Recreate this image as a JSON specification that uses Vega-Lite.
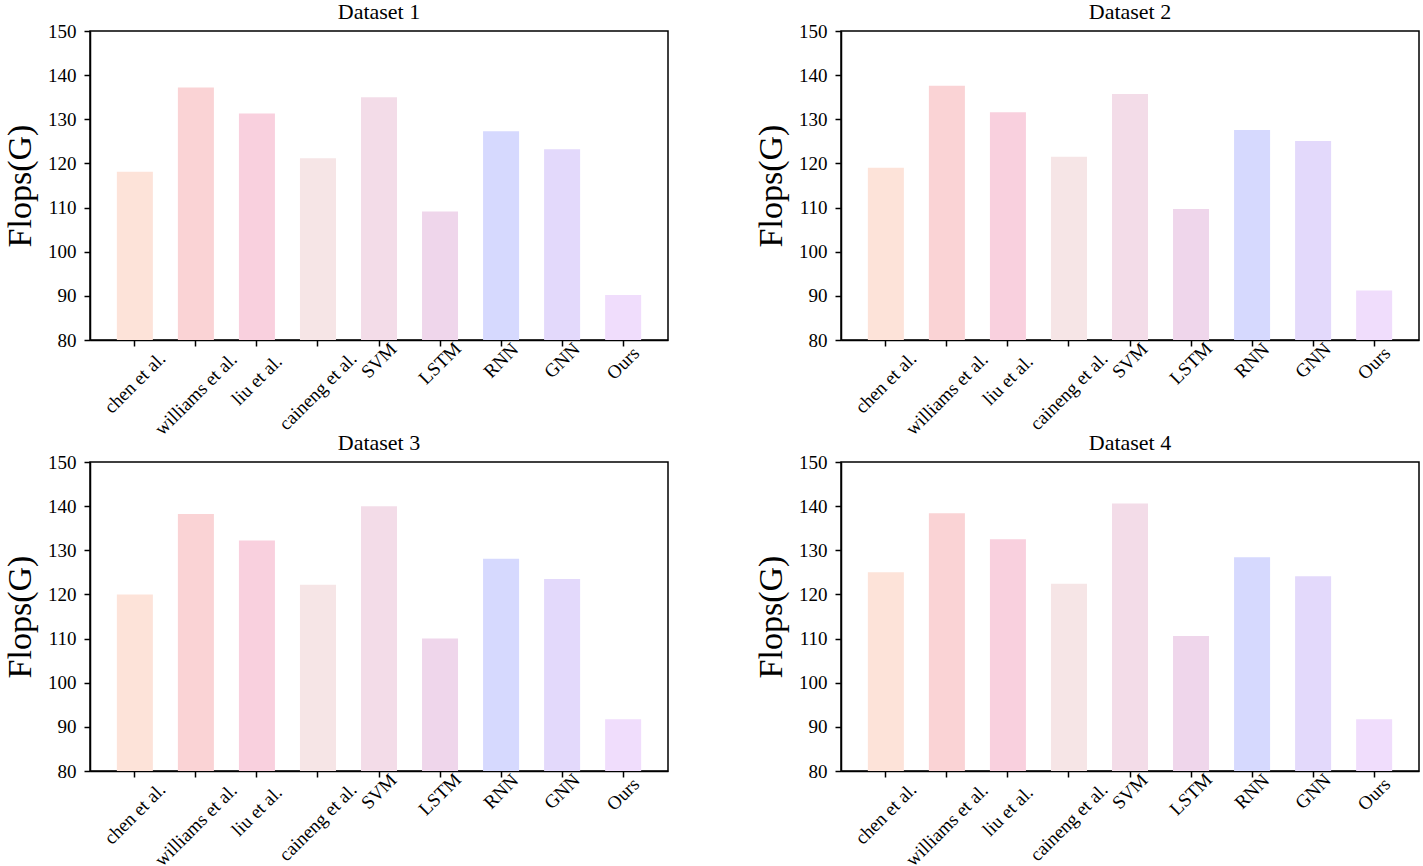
{
  "$schema": "https://vega.github.io/schema/vega-lite/v6.json",
  "background": "white",
  "padding": {"left": 2, "top": 0, "right": 0, "bottom": 0},
  "config": {
    "font": "Liberation Serif",
    "view": {"stroke": "black", "strokeWidth": 1.5},
    "axis": {"domainColor": "black", "domainWidth": 1.5, "tickColor": "black", "tickWidth": 1.5, "tickSize": 6, "labelColor": "black", "titleColor": "black", "labelFont": "Liberation Serif", "titleFont": "Liberation Serif", "grid": false},
    "title": {"font": "Liberation Serif", "fontSize": 22, "fontWeight": "normal", "color": "black", "offset": -2}
  },
  "spacing": {"row": -9, "column": 84},
  "data": {"values": [
    {"ds": "Dataset 1", "method": "chen et al.", "flops": 118.1},
    {"ds": "Dataset 1", "method": "williams et al.", "flops": 137.2},
    {"ds": "Dataset 1", "method": "liu et al.", "flops": 131.3},
    {"ds": "Dataset 1", "method": "caineng et al.", "flops": 121.2},
    {"ds": "Dataset 1", "method": "SVM", "flops": 135.0},
    {"ds": "Dataset 1", "method": "LSTM", "flops": 109.1},
    {"ds": "Dataset 1", "method": "RNN", "flops": 127.3},
    {"ds": "Dataset 1", "method": "GNN", "flops": 123.2},
    {"ds": "Dataset 1", "method": "Ours", "flops": 90.2},
    {"ds": "Dataset 2", "method": "chen et al.", "flops": 119.0},
    {"ds": "Dataset 2", "method": "williams et al.", "flops": 137.6},
    {"ds": "Dataset 2", "method": "liu et al.", "flops": 131.6},
    {"ds": "Dataset 2", "method": "caineng et al.", "flops": 121.5},
    {"ds": "Dataset 2", "method": "SVM", "flops": 135.7},
    {"ds": "Dataset 2", "method": "LSTM", "flops": 109.7},
    {"ds": "Dataset 2", "method": "RNN", "flops": 127.6},
    {"ds": "Dataset 2", "method": "GNN", "flops": 125.1},
    {"ds": "Dataset 2", "method": "Ours", "flops": 91.2},
    {"ds": "Dataset 3", "method": "chen et al.", "flops": 120.0},
    {"ds": "Dataset 3", "method": "williams et al.", "flops": 138.2},
    {"ds": "Dataset 3", "method": "liu et al.", "flops": 132.2},
    {"ds": "Dataset 3", "method": "caineng et al.", "flops": 122.2},
    {"ds": "Dataset 3", "method": "SVM", "flops": 140.0},
    {"ds": "Dataset 3", "method": "LSTM", "flops": 110.0},
    {"ds": "Dataset 3", "method": "RNN", "flops": 128.1},
    {"ds": "Dataset 3", "method": "GNN", "flops": 123.5},
    {"ds": "Dataset 3", "method": "Ours", "flops": 91.7},
    {"ds": "Dataset 4", "method": "chen et al.", "flops": 125.0},
    {"ds": "Dataset 4", "method": "williams et al.", "flops": 138.4},
    {"ds": "Dataset 4", "method": "liu et al.", "flops": 132.5},
    {"ds": "Dataset 4", "method": "caineng et al.", "flops": 122.4},
    {"ds": "Dataset 4", "method": "SVM", "flops": 140.6},
    {"ds": "Dataset 4", "method": "LSTM", "flops": 110.6},
    {"ds": "Dataset 4", "method": "RNN", "flops": 128.4},
    {"ds": "Dataset 4", "method": "GNN", "flops": 124.1},
    {"ds": "Dataset 4", "method": "Ours", "flops": 91.7}
  ]},
  "columns": 2,
  "concat": [
    {"title": "Dataset 1", "transform": [{"filter": "datum.ds == 'Dataset 1'"}], "width": 578, "height": 309,
     "mark": {"type": "bar"},
     "encoding": {
       "x": {"field": "method", "type": "nominal", "sort": null, "scale": {"paddingInner": 0.41, "paddingOuter": 0.44}, "axis": {"title": null, "labelAngle": -45, "labelAlign": "center", "labelBaseline": "middle", "labelFontSize": 19, "labelPadding": 0, "encoding": {"labels": {"dx": {"value": {"expr": "-4 - 1.98*length(datum.label)"}}, "dy": {"value": {"expr": "4 + 1.98*length(datum.label)"}}}}}},
       "y": {"field": "flops", "type": "quantitative", "scale": {"domain": [80, 150], "zero": false, "nice": false}, "axis": {"title": "Flops(G)", "titleFontSize": 34, "titleFontWeight": "normal", "titlePadding": 10, "labelFontSize": 19, "labelPadding": 8, "values": [80, 90, 100, 110, 120, 130, 140, 150]}},
       "y2": {"datum": 80},
       "color": {"field": "method", "type": "nominal", "sort": null, "legend": null, "scale": {"domain": ["chen et al.", "williams et al.", "liu et al.", "caineng et al.", "SVM", "LSTM", "RNN", "GNN", "Ours"], "range": ["#fde3d9", "#fad3d5", "#f9d0de", "#f6e5e6", "#f3dce8", "#efd6eb", "#d6d9fe", "#e3d9fb", "#f0ddfc"]}}
     }},
    {"title": "Dataset 2", "transform": [{"filter": "datum.ds == 'Dataset 2'"}], "width": 578, "height": 309,
     "mark": {"type": "bar"},
     "encoding": {
       "x": {"field": "method", "type": "nominal", "sort": null, "scale": {"paddingInner": 0.41, "paddingOuter": 0.44}, "axis": {"title": null, "labelAngle": -45, "labelAlign": "center", "labelBaseline": "middle", "labelFontSize": 19, "labelPadding": 0, "encoding": {"labels": {"dx": {"value": {"expr": "-4 - 1.98*length(datum.label)"}}, "dy": {"value": {"expr": "4 + 1.98*length(datum.label)"}}}}}},
       "y": {"field": "flops", "type": "quantitative", "scale": {"domain": [80, 150], "zero": false, "nice": false}, "axis": {"title": "Flops(G)", "titleFontSize": 34, "titleFontWeight": "normal", "titlePadding": 10, "labelFontSize": 19, "labelPadding": 8, "values": [80, 90, 100, 110, 120, 130, 140, 150]}},
       "y2": {"datum": 80},
       "color": {"field": "method", "type": "nominal", "sort": null, "legend": null, "scale": {"domain": ["chen et al.", "williams et al.", "liu et al.", "caineng et al.", "SVM", "LSTM", "RNN", "GNN", "Ours"], "range": ["#fde3d9", "#fad3d5", "#f9d0de", "#f6e5e6", "#f3dce8", "#efd6eb", "#d6d9fe", "#e3d9fb", "#f0ddfc"]}}
     }},
    {"title": "Dataset 3", "transform": [{"filter": "datum.ds == 'Dataset 3'"}], "width": 578, "height": 309,
     "mark": {"type": "bar"},
     "encoding": {
       "x": {"field": "method", "type": "nominal", "sort": null, "scale": {"paddingInner": 0.41, "paddingOuter": 0.44}, "axis": {"title": null, "labelAngle": -45, "labelAlign": "center", "labelBaseline": "middle", "labelFontSize": 19, "labelPadding": 0, "encoding": {"labels": {"dx": {"value": {"expr": "-4 - 1.98*length(datum.label)"}}, "dy": {"value": {"expr": "4 + 1.98*length(datum.label)"}}}}}},
       "y": {"field": "flops", "type": "quantitative", "scale": {"domain": [80, 150], "zero": false, "nice": false}, "axis": {"title": "Flops(G)", "titleFontSize": 34, "titleFontWeight": "normal", "titlePadding": 10, "labelFontSize": 19, "labelPadding": 8, "values": [80, 90, 100, 110, 120, 130, 140, 150]}},
       "y2": {"datum": 80},
       "color": {"field": "method", "type": "nominal", "sort": null, "legend": null, "scale": {"domain": ["chen et al.", "williams et al.", "liu et al.", "caineng et al.", "SVM", "LSTM", "RNN", "GNN", "Ours"], "range": ["#fde3d9", "#fad3d5", "#f9d0de", "#f6e5e6", "#f3dce8", "#efd6eb", "#d6d9fe", "#e3d9fb", "#f0ddfc"]}}
     }},
    {"title": "Dataset 4", "transform": [{"filter": "datum.ds == 'Dataset 4'"}], "width": 578, "height": 309,
     "mark": {"type": "bar"},
     "encoding": {
       "x": {"field": "method", "type": "nominal", "sort": null, "scale": {"paddingInner": 0.41, "paddingOuter": 0.44}, "axis": {"title": null, "labelAngle": -45, "labelAlign": "center", "labelBaseline": "middle", "labelFontSize": 19, "labelPadding": 0, "encoding": {"labels": {"dx": {"value": {"expr": "-4 - 1.98*length(datum.label)"}}, "dy": {"value": {"expr": "4 + 1.98*length(datum.label)"}}}}}},
       "y": {"field": "flops", "type": "quantitative", "scale": {"domain": [80, 150], "zero": false, "nice": false}, "axis": {"title": "Flops(G)", "titleFontSize": 34, "titleFontWeight": "normal", "titlePadding": 10, "labelFontSize": 19, "labelPadding": 8, "values": [80, 90, 100, 110, 120, 130, 140, 150]}},
       "y2": {"datum": 80},
       "color": {"field": "method", "type": "nominal", "sort": null, "legend": null, "scale": {"domain": ["chen et al.", "williams et al.", "liu et al.", "caineng et al.", "SVM", "LSTM", "RNN", "GNN", "Ours"], "range": ["#fde3d9", "#fad3d5", "#f9d0de", "#f6e5e6", "#f3dce8", "#efd6eb", "#d6d9fe", "#e3d9fb", "#f0ddfc"]}}
     }}
  ]
}
